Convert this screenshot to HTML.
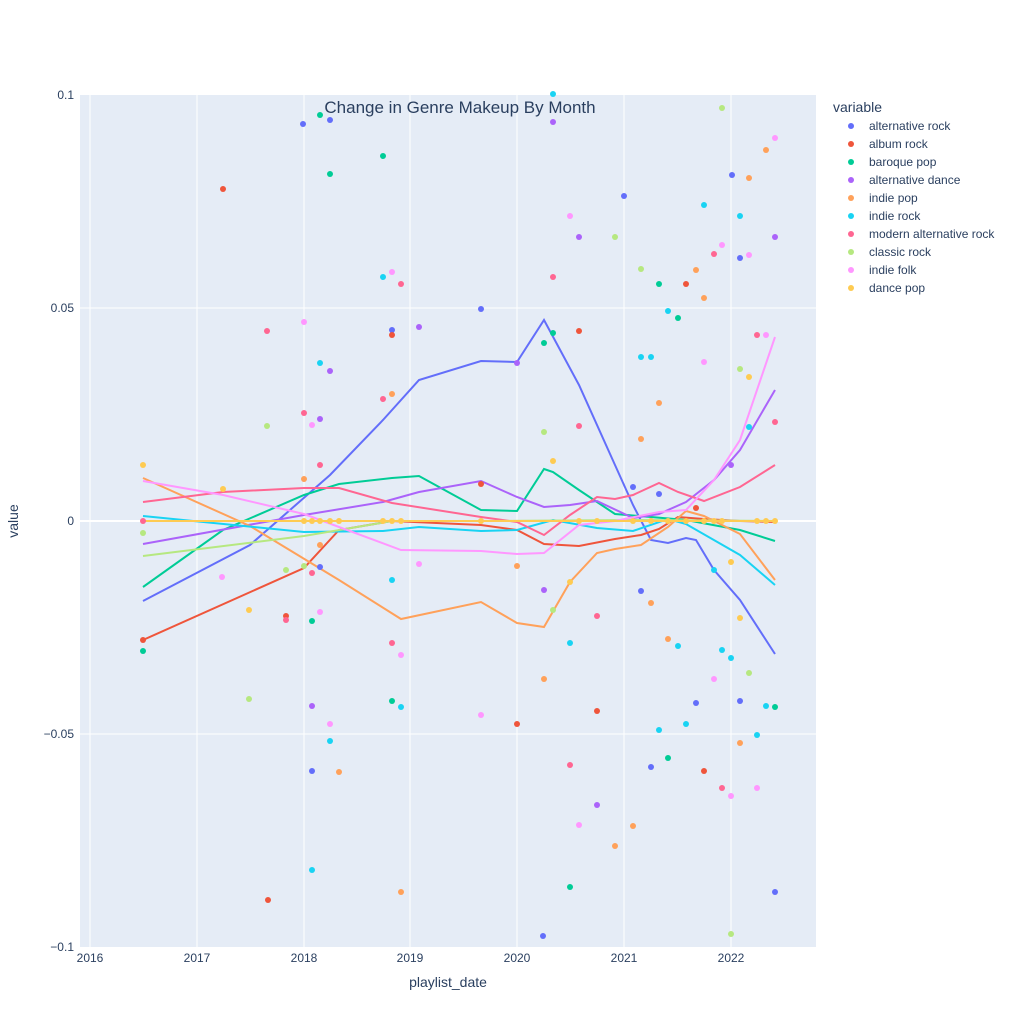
<!DOCTYPE html><html><head><style>body{margin:0;background:#fff}svg{display:block;font-family:"Liberation Sans",sans-serif}</style></head><body>
<svg width="1024" height="1024" xmlns="http://www.w3.org/2000/svg">
<rect x="80" y="95" width="736" height="852" fill="#e5ecf6"/>
<g stroke="#fff" stroke-width="1">
<line x1="80" x2="816" y1="308" y2="308"/><line x1="80" x2="816" y1="734" y2="734"/>
<line x1="90" x2="90" y1="95" y2="947"/><line x1="197" x2="197" y1="95" y2="947"/><line x1="304" x2="304" y1="95" y2="947"/><line x1="410" x2="410" y1="95" y2="947"/><line x1="517" x2="517" y1="95" y2="947"/><line x1="624" x2="624" y1="95" y2="947"/><line x1="731" x2="731" y1="95" y2="947"/>
</g>
<line x1="80" x2="816" y1="521" y2="521" stroke="#fff" stroke-width="2"/>
<g font-size="12" fill="#2a3f5f" text-anchor="end">
<text x="74" y="99">0.1</text><text x="74" y="312">0.05</text><text x="74" y="525">0</text><text x="74" y="738">−0.05</text><text x="74" y="951">−0.1</text>
</g>
<g font-size="12" fill="#2a3f5f" text-anchor="middle">
<text x="90" y="962">2016</text><text x="197" y="962">2017</text><text x="304" y="962">2018</text><text x="410" y="962">2019</text><text x="517" y="962">2020</text><text x="624" y="962">2021</text><text x="731" y="962">2022</text>
</g>
<text x="448" y="987" font-size="14" fill="#2a3f5f" text-anchor="middle">playlist_date</text>
<text x="18" y="521" font-size="14" fill="#2a3f5f" text-anchor="middle" transform="rotate(-90 18 521)">value</text>
<g fill="none" stroke-width="2">
<polyline stroke="#636efa" points="143,601 250,545 330,475 383,420 419,380 481,361 517,362 544,320 579,385 615,465 633,505 651,540 668,543 686,538 696,540 714,570 740,600 775,654"/>
<polyline stroke="#EF553B" points="143,640 304,568 339,530 392,521 481,525 517,530 544,544 579,546 615,539 641,535 659,529 678,517 704,519 740,521 775,522"/>
<polyline stroke="#00cc96" points="143,587 223,530 304,495 339,484 392,478 419,476 481,510 517,511 544,469 553,472 579,490 615,514 651,517 686,520 740,530 775,541"/>
<polyline stroke="#ab63fa" points="143,544 304,515 383,502 419,492 481,481 517,497 544,507 570,505 597,501 633,518 659,514 686,502 714,480 740,450 775,390"/>
<polyline stroke="#FFA15A" points="143,478 250,526 339,580 401,619 481,602 517,623 544,627 570,582 597,553 615,549 641,545 668,527 686,511 704,516 740,534 775,580"/>
<polyline stroke="#19d3f3" points="143,516 304,532 383,531 419,527 481,531 517,530 553,520 597,528 633,531 668,519 686,524 740,555 775,585"/>
<polyline stroke="#FF6692" points="143,502 223,492 304,488 339,488 392,503 481,517 517,522 544,535 570,515 597,497 615,499 633,495 659,483 678,492 704,501 740,487 775,465"/>
<polyline stroke="#B6E880" points="143,556 304,536 392,521 481,521 633,520 775,521"/>
<polyline stroke="#FF97FF" points="143,481 223,495 304,514 401,550 481,551 517,554 544,553 579,525 615,521 659,512 686,510 714,480 740,440 775,337"/>
<polyline stroke="#FECB52" points="143,521 775,521"/>
</g>
<g id="pts">
<g fill="#636efa"><circle cx="303" cy="124" r="3"/><circle cx="330" cy="120" r="3"/><circle cx="392" cy="330" r="3"/><circle cx="481" cy="309" r="3"/><circle cx="624" cy="196" r="3"/><circle cx="633" cy="487" r="3"/><circle cx="659" cy="494" r="3"/><circle cx="651" cy="767" r="3"/><circle cx="696" cy="703" r="3"/><circle cx="732" cy="175" r="3"/><circle cx="740" cy="258" r="3"/><circle cx="740" cy="701" r="3"/><circle cx="312" cy="771" r="3"/><circle cx="320" cy="567" r="3"/><circle cx="775" cy="892" r="3"/><circle cx="543" cy="936" r="3"/><circle cx="641" cy="591" r="3"/></g>
<g fill="#EF553B"><circle cx="143" cy="640" r="3"/><circle cx="223" cy="189" r="3"/><circle cx="268" cy="900" r="3"/><circle cx="286" cy="616" r="3"/><circle cx="392" cy="335" r="3"/><circle cx="481" cy="484" r="3"/><circle cx="517" cy="724" r="3"/><circle cx="597" cy="711" r="3"/><circle cx="704" cy="771" r="3"/><circle cx="686" cy="284" r="3"/><circle cx="696" cy="508" r="3"/><circle cx="579" cy="331" r="3"/></g>
<g fill="#00cc96"><circle cx="143" cy="651" r="3"/><circle cx="320" cy="115" r="3"/><circle cx="330" cy="174" r="3"/><circle cx="383" cy="156" r="3"/><circle cx="312" cy="621" r="3"/><circle cx="392" cy="701" r="3"/><circle cx="544" cy="343" r="3"/><circle cx="553" cy="333" r="3"/><circle cx="570" cy="887" r="3"/><circle cx="659" cy="284" r="3"/><circle cx="668" cy="758" r="3"/><circle cx="678" cy="318" r="3"/><circle cx="775" cy="707" r="3"/></g>
<g fill="#ab63fa"><circle cx="419" cy="327" r="3"/><circle cx="330" cy="371" r="3"/><circle cx="320" cy="419" r="3"/><circle cx="312" cy="706" r="3"/><circle cx="544" cy="590" r="3"/><circle cx="553" cy="122" r="3"/><circle cx="579" cy="237" r="3"/><circle cx="597" cy="805" r="3"/><circle cx="731" cy="465" r="3"/><circle cx="775" cy="237" r="3"/><circle cx="517" cy="363" r="3"/></g>
<g fill="#FFA15A"><circle cx="320" cy="545" r="3"/><circle cx="339" cy="772" r="3"/><circle cx="392" cy="394" r="3"/><circle cx="401" cy="892" r="3"/><circle cx="517" cy="566" r="3"/><circle cx="544" cy="679" r="3"/><circle cx="615" cy="846" r="3"/><circle cx="633" cy="826" r="3"/><circle cx="641" cy="439" r="3"/><circle cx="651" cy="603" r="3"/><circle cx="659" cy="403" r="3"/><circle cx="668" cy="639" r="3"/><circle cx="696" cy="270" r="3"/><circle cx="704" cy="298" r="3"/><circle cx="740" cy="743" r="3"/><circle cx="749" cy="178" r="3"/><circle cx="766" cy="150" r="3"/><circle cx="304" cy="479" r="3"/></g>
<g fill="#19d3f3"><circle cx="383" cy="277" r="3"/><circle cx="320" cy="363" r="3"/><circle cx="330" cy="741" r="3"/><circle cx="312" cy="870" r="3"/><circle cx="392" cy="580" r="3"/><circle cx="401" cy="707" r="3"/><circle cx="570" cy="643" r="3"/><circle cx="553" cy="94" r="3"/><circle cx="641" cy="357" r="3"/><circle cx="651" cy="357" r="3"/><circle cx="659" cy="730" r="3"/><circle cx="668" cy="311" r="3"/><circle cx="678" cy="646" r="3"/><circle cx="686" cy="724" r="3"/><circle cx="704" cy="205" r="3"/><circle cx="714" cy="570" r="3"/><circle cx="722" cy="650" r="3"/><circle cx="731" cy="658" r="3"/><circle cx="740" cy="216" r="3"/><circle cx="749" cy="427" r="3"/><circle cx="757" cy="735" r="3"/><circle cx="766" cy="706" r="3"/></g>
<g fill="#FF6692"><circle cx="143" cy="521" r="3"/><circle cx="267" cy="331" r="3"/><circle cx="304" cy="413" r="3"/><circle cx="320" cy="465" r="3"/><circle cx="312" cy="573" r="3"/><circle cx="286" cy="620" r="3"/><circle cx="383" cy="399" r="3"/><circle cx="401" cy="284" r="3"/><circle cx="392" cy="643" r="3"/><circle cx="553" cy="277" r="3"/><circle cx="570" cy="765" r="3"/><circle cx="579" cy="426" r="3"/><circle cx="597" cy="616" r="3"/><circle cx="714" cy="254" r="3"/><circle cx="722" cy="788" r="3"/><circle cx="757" cy="335" r="3"/><circle cx="775" cy="422" r="3"/></g>
<g fill="#B6E880"><circle cx="143" cy="533" r="3"/><circle cx="267" cy="426" r="3"/><circle cx="249" cy="699" r="3"/><circle cx="286" cy="570" r="3"/><circle cx="304" cy="566" r="3"/><circle cx="544" cy="432" r="3"/><circle cx="553" cy="610" r="3"/><circle cx="615" cy="237" r="3"/><circle cx="641" cy="269" r="3"/><circle cx="722" cy="108" r="3"/><circle cx="731" cy="934" r="3"/><circle cx="740" cy="369" r="3"/><circle cx="749" cy="673" r="3"/></g>
<g fill="#FF97FF"><circle cx="222" cy="577" r="3"/><circle cx="304" cy="322" r="3"/><circle cx="312" cy="425" r="3"/><circle cx="320" cy="612" r="3"/><circle cx="330" cy="724" r="3"/><circle cx="392" cy="272" r="3"/><circle cx="401" cy="655" r="3"/><circle cx="419" cy="564" r="3"/><circle cx="481" cy="715" r="3"/><circle cx="570" cy="216" r="3"/><circle cx="579" cy="825" r="3"/><circle cx="704" cy="362" r="3"/><circle cx="714" cy="679" r="3"/><circle cx="722" cy="245" r="3"/><circle cx="731" cy="796" r="3"/><circle cx="749" cy="255" r="3"/><circle cx="757" cy="788" r="3"/><circle cx="766" cy="335" r="3"/><circle cx="775" cy="138" r="3"/></g>
<g fill="#FECB52"><circle cx="143" cy="465" r="3"/><circle cx="223" cy="489" r="3"/><circle cx="249" cy="610" r="3"/><circle cx="304" cy="521" r="3"/><circle cx="312" cy="521" r="3"/><circle cx="320" cy="521" r="3"/><circle cx="330" cy="521" r="3"/><circle cx="339" cy="521" r="3"/><circle cx="383" cy="521" r="3"/><circle cx="392" cy="521" r="3"/><circle cx="401" cy="521" r="3"/><circle cx="481" cy="521" r="3"/><circle cx="553" cy="461" r="3"/><circle cx="570" cy="582" r="3"/><circle cx="579" cy="521" r="3"/><circle cx="597" cy="521" r="3"/><circle cx="633" cy="521" r="3"/><circle cx="651" cy="521" r="3"/><circle cx="668" cy="521" r="3"/><circle cx="686" cy="521" r="3"/><circle cx="704" cy="521" r="3"/><circle cx="714" cy="521" r="3"/><circle cx="722" cy="521" r="3"/><circle cx="731" cy="562" r="3"/><circle cx="740" cy="618" r="3"/><circle cx="749" cy="377" r="3"/><circle cx="757" cy="521" r="3"/><circle cx="766" cy="521" r="3"/><circle cx="775" cy="521" r="3"/></g>
</g>
<text x="460" y="113" font-size="17" fill="#2a3f5f" text-anchor="middle">Change in Genre Makeup By Month</text>
<text x="833" y="112" font-size="14" fill="#2a3f5f">variable</text>
<g font-size="12" fill="#2a3f5f">
<circle cx="851" cy="126" r="3" fill="#636efa"/><text x="869" y="130">alternative rock</text>
<circle cx="851" cy="144" r="3" fill="#EF553B"/><text x="869" y="148">album rock</text>
<circle cx="851" cy="162" r="3" fill="#00cc96"/><text x="869" y="166">baroque pop</text>
<circle cx="851" cy="180" r="3" fill="#ab63fa"/><text x="869" y="184">alternative dance</text>
<circle cx="851" cy="198" r="3" fill="#FFA15A"/><text x="869" y="202">indie pop</text>
<circle cx="851" cy="216" r="3" fill="#19d3f3"/><text x="869" y="220">indie rock</text>
<circle cx="851" cy="234" r="3" fill="#FF6692"/><text x="869" y="238">modern alternative rock</text>
<circle cx="851" cy="252" r="3" fill="#B6E880"/><text x="869" y="256">classic rock</text>
<circle cx="851" cy="270" r="3" fill="#FF97FF"/><text x="869" y="274">indie folk</text>
<circle cx="851" cy="288" r="3" fill="#FECB52"/><text x="869" y="292">dance pop</text>
</g>
</svg></body></html>
